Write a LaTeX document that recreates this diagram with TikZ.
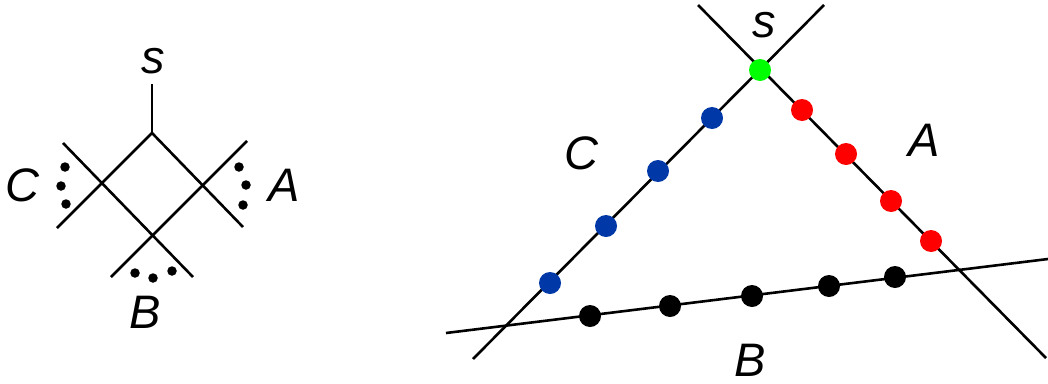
\documentclass[tikz,border=0pt]{standalone}
\usepackage{fontspec}
\setmainfont{Liberation Sans}
\definecolor{dotblue}{RGB}{0,56,168}
\definecolor{dotred}{RGB}{255,0,0}
\definecolor{dotgreen}{RGB}{0,255,0}
\begin{document}
\begin{tikzpicture}[x=1pt,y=-1pt,line width=2.6pt,
  lbl/.style={font=\fontsize{47}{47}\selectfont\itshape,inner sep=0pt},
  smalldot/.style={circle,inner sep=0pt,minimum size=9.5pt,fill=black,draw=none},
  bigdot/.style={circle,inner sep=0pt,minimum size=22pt,fill=#1,draw=none}]
\useasboundingbox (0,0) rectangle (1048,383);
% ---------- left diagram ----------
\coordinate (top) at (152,133);
\coordinate (stem) at (152,84);
\coordinate (lv) at (103,183);
\coordinate (rv) at (202,185);
\coordinate (bv) at (153,234);
\coordinate (l1e) at (57,228);
\coordinate (l2s) at (63,143);
\coordinate (l2e) at (193,277);
\coordinate (l3e) at (243,227);
\coordinate (l4s) at (247,141);
\coordinate (l4e) at (111,277);
\draw (stem) -- (top);
\draw (top) -- (l1e);
\draw (l2s) -- (l2e);
\draw (top) -- (l3e);
\draw (l4s) -- (l4e);
\node[smalldot] (c1) at (65,167) {};
\node[smalldot] (c2) at (61,186) {};
\node[smalldot] (c3) at (66,204) {};
\node[smalldot] (a1) at (239,167) {};
\node[smalldot] (a2) at (246,185) {};
\node[smalldot] (a3) at (243,205) {};
\node[smalldot] (b1) at (135,273) {};
\node[smalldot] (b2) at (153,278) {};
\node[smalldot] (b3) at (172,271) {};
\node[lbl] (sL) at (153,61) {s};
\node[lbl] (CL) at (22,185) {C};
\node[lbl] (AL) at (284,185) {A};
\node[lbl] (BL) at (145,312) {B};
% ---------- right diagram ----------
\coordinate (Aa) at (698,5);
\coordinate (Ab) at (1046,358);
\coordinate (Ca) at (824,5);
\coordinate (Cb) at (473,359);
\coordinate (Ba) at (446,333);
\coordinate (Bb) at (1048,259);
\draw (Aa) -- (Ab);
\draw (Ca) -- (Cb);
\draw (Ba) -- (Bb);
\node[bigdot=dotgreen] (g) at (760,70) {};
\node[bigdot=dotblue] (u1) at (712,118) {};
\node[bigdot=dotblue] (u2) at (658,171) {};
\node[bigdot=dotblue] (u3) at (606,226) {};
\node[bigdot=dotblue] (u4) at (550,283) {};
\node[bigdot=dotred] (r1) at (802,110) {};
\node[bigdot=dotred] (r2) at (846,154) {};
\node[bigdot=dotred] (r3) at (891,201) {};
\node[bigdot=dotred] (r4) at (931,241) {};
\node[bigdot=black] (k1) at (590,316) {};
\node[bigdot=black] (k2) at (670,306) {};
\node[bigdot=black] (k3) at (752,296) {};
\node[bigdot=black] (k4) at (829,286) {};
\node[bigdot=black] (k5) at (895,277) {};
\node[lbl] (sR) at (764,25) {s};
\node[lbl] (CR) at (581,153) {C};
\node[lbl] (AR) at (924,140) {A};
\node[lbl] (BR) at (750,360) {B};
\end{tikzpicture}
\end{document}
